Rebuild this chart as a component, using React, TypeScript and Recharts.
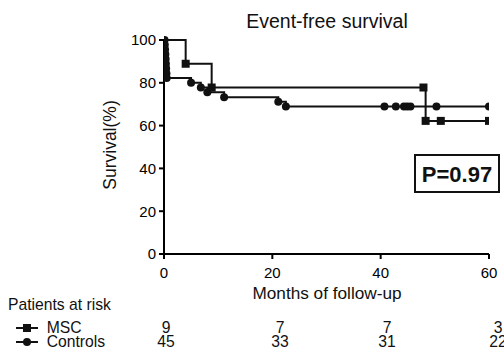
import React from "react";
import { LineChart, Line, XAxis, YAxis } from "recharts";

const mscMonths = [0, 4.0, 8.8, 47.9, 48.3, 51.1, 60];
const mscSurvival = [100, 88.9, 77.8, 77.8, 62.2, 62.2, 62.2];

const controlMonths = [
  0, 0.1, 0.15, 0.2, 0.25, 0.3, 0.35, 0.4, 0.45, 0.5,
  5.0, 6.8, 8.0, 11.1, 21.1, 22.5,
  40.7, 42.8, 44.3, 44.9, 45.5, 50.3, 60,
];
const controlSurvival = [
  100, 100, 97.8, 95.6, 93.3, 91.1, 88.9, 86.7, 84.4, 82.2,
  80.0, 77.8, 75.6, 73.3, 71.1, 68.9,
  68.9, 68.9, 68.9, 68.9, 68.9, 68.9, 68.9,
];

const xTicks = [0, 20, 40, 60];
const yTicks = [0, 20, 40, 60, 80, 100];

const riskGroups = ["MSC", "Controls"];
const riskMSC = [9, 7, 7, 3];
const riskControls = [45, 33, 31, 22];
const pValueLabel = "P=0.97";

const mscData = mscMonths.map((x, i) => ({ x, y: mscSurvival[i] }));
const controlData = controlMonths.map((x, i) => ({ x, y: controlSurvival[i] }));

const FONT = "'Liberation Sans', Arial, sans-serif";
const riskCols = [166, 280, 387, 498];

const SquareDot = (p: any) => {
  if (p.index === 0 || p.cx == null) return <g key={`s-${p.index}`} />;
  return <rect key={`s-${p.index}`} x={p.cx - 4} y={p.cy - 4} width={8} height={8} fill="#111" />;
};
const CircleDot = (p: any) => {
  if (p.index === 0 || p.cx == null) return <g key={`c-${p.index}`} />;
  return <circle key={`c-${p.index}`} cx={p.cx} cy={p.cy} r={4} fill="#111" />;
};

export default function App() {
  const tickStyle = { fontSize: 15, fill: "#000", fontFamily: FONT };
  return (
    <div style={{ position: "absolute", left: 0, top: 0, width: 504, height: 351, background: "#fff", fontFamily: FONT }}>
      <LineChart width={504} height={351} margin={{ top: 40, right: 15, bottom: 67, left: 0 }}>
        <XAxis
          dataKey="x"
          type="number"
          domain={[0, 60]}
          ticks={xTicks}
          allowDataOverflow
          height={30}
          tickSize={5}
          tickMargin={8}
          tick={tickStyle}
          axisLine={{ stroke: "#000", strokeWidth: 2 }}
          tickLine={{ stroke: "#000", strokeWidth: 2 }}
        />
        <YAxis
          type="number"
          domain={[0, 100]}
          ticks={yTicks}
          width={164}
          tickSize={5}
          tickMargin={3}
          tick={tickStyle}
          axisLine={{ stroke: "#000", strokeWidth: 2 }}
          tickLine={{ stroke: "#000", strokeWidth: 2 }}
        />
        <Line
          data={controlData}
          dataKey="y"
          type="stepAfter"
          stroke="#111"
          strokeWidth={2}
          dot={CircleDot}
          activeDot={false}
          isAnimationActive={false}
        />
        <Line
          data={mscData}
          dataKey="y"
          type="stepAfter"
          stroke="#111"
          strokeWidth={2}
          dot={SquareDot}
          activeDot={false}
          isAnimationActive={false}
        />
      </LineChart>
      <svg width={504} height={351} style={{ position: "absolute", left: 0, top: 0, pointerEvents: "none" }}>
        <text x={327} y={28} textAnchor="middle" fontSize={19.5} fontFamily={FONT} fill="#111">Event-free survival</text>
        <text transform="translate(116,145) rotate(-90)" textAnchor="middle" fontSize={17.5} fontFamily={FONT} fill="#111">Survival(%)</text>
        <text x={327} y={299} textAnchor="middle" fontSize={17.2} fontFamily={FONT} fill="#111">Months of follow-up</text>
        <text x={8} y={310} fontSize={15.7} fontFamily={FONT} fill="#111">Patients at risk</text>
        <line x1={16} x2={38} y1={328} y2={328} stroke="#111" strokeWidth={2} />
        <rect x={23} y={324} width={8} height={8} fill="#111" />
        <line x1={16} x2={38} y1={342} y2={342} stroke="#111" strokeWidth={2} />
        <circle cx={27} cy={342} r={4} fill="#111" />
        <text x={46.7} y={333} fontSize={15.7} fontFamily={FONT} fill="#111">{riskGroups[0]}</text>
        <text x={46.7} y={347} fontSize={15.7} fontFamily={FONT} fill="#111">{riskGroups[1]}</text>
        {riskMSC.map((v, i) => (
          <text key={`rm-${i}`} x={riskCols[i]} y={333} textAnchor="middle" fontSize={15.7} fontFamily={FONT} fill="#111">{v}</text>
        ))}
        {riskControls.map((v, i) => (
          <text key={`rc-${i}`} x={riskCols[i]} y={347} textAnchor="middle" fontSize={15.7} fontFamily={FONT} fill="#111">{v}</text>
        ))}
        <rect x={415} y={155} width={84} height={37} fill="#fff" stroke="#111" strokeWidth={2} />
        <text x={457} y={182} textAnchor="middle" fontSize={22} fontWeight="bold" fontFamily={FONT} fill="#111">{pValueLabel}</text>
      </svg>
    </div>
  );
}
